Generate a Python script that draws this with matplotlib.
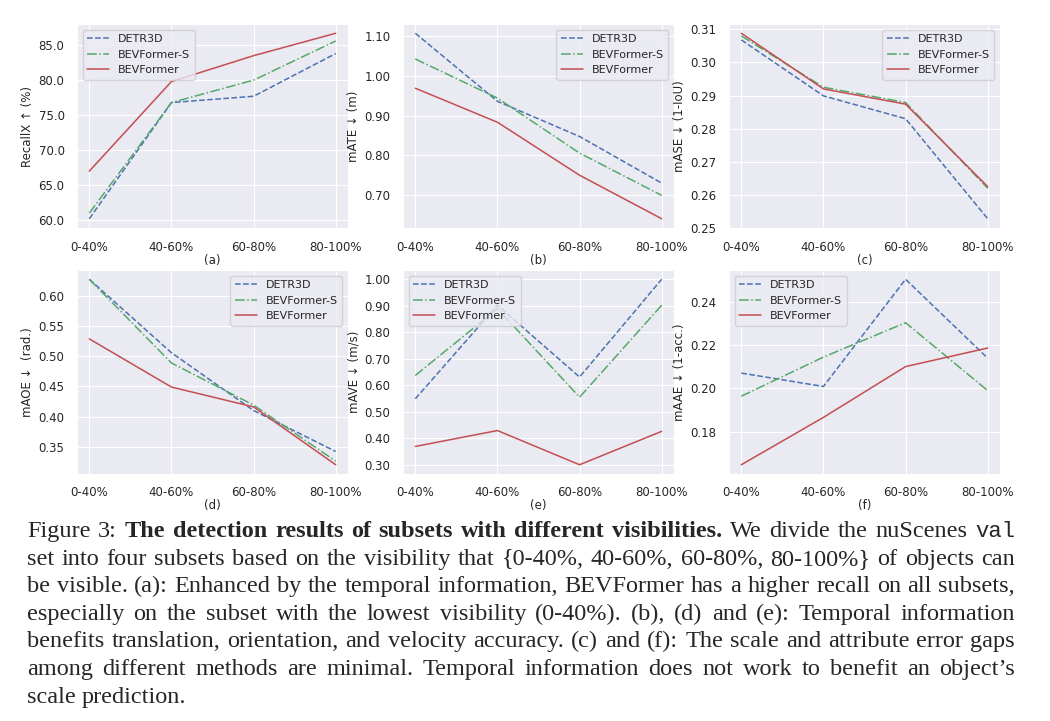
import matplotlib
matplotlib.use("Agg")
import matplotlib.pyplot as plt
import seaborn as sns
from matplotlib.ticker import FormatStrFormatter, MultipleLocator

# ---------------- data
subsets = ["0-40%", "40-60%", "60-80%", "80-100%"]
methods = ["DETR3D", "BEVFormer-S", "BEVFormer"]

# rows: DETR3D, BEVFormer-S, BEVFormer
recall = [[60.2, 76.8, 77.7, 83.8],
          [61.0, 76.8, 80.0, 85.6],
          [67.0, 79.8, 83.5, 86.7]]
mate = [[1.108, 0.936, 0.847, 0.729],
        [1.043, 0.944, 0.805, 0.698],
        [0.969, 0.883, 0.749, 0.639]]
mase = [[0.3068, 0.2899, 0.2830, 0.2528],
        [0.3080, 0.2925, 0.2879, 0.2620],
        [0.3088, 0.2920, 0.2874, 0.2625]]
maoe = [[0.628, 0.506, 0.410, 0.342],
        [0.628, 0.489, 0.419, 0.326],
        [0.529, 0.449, 0.416, 0.320]]
mave = [[0.549, 0.902, 0.631, 1.000],
        [0.637, 0.889, 0.555, 0.902],
        [0.369, 0.429, 0.300, 0.426]]
maae = [[0.2071, 0.2009, 0.2505, 0.2140],
        [0.1964, 0.2145, 0.2304, 0.1990],
        [0.1647, 0.1866, 0.2101, 0.2187]]

ylabels = ["RecallX \u2191 (%)", "mATE \u2193 (m)", "mASE \u2193 (1-IoU)",
           "mAOE \u2193  (rad.)", "mAVE \u2193 (m/s)", "mAAE \u2193 (1-acc.)"]
letters = ["(a)", "(b)", "(c)", "(d)", "(e)", "(f)"]
panels = [recall, mate, mase, maoe, mave, maae]

caption_lines = [
    "Figure 3: *The *detection *results *of *subsets *with *different *visibilities. We divide the nuScenes `val",
    "set into four subsets based on the visibility that {0-40%, 40-60%, 60-80%, 80-100%} of objects can",
    "be visible. (a): Enhanced by the temporal information, BEVFormer has a higher recall on all subsets,",
    "especially on the subset with the lowest visibility (0-40%). (b), (d) and (e): Temporal information",
    "benefits translation, orientation, and velocity accuracy. (c) and (f): The scale and attribute error gaps",
    "among different methods are minimal. Temporal information does not work to benefit an object\u2019s",
    "scale prediction.",
]

# ---------------- style
sns.set_style("darkgrid")
plt.rcParams["font.family"] = ["DejaVu Sans"]
plt.rcParams["xtick.labelsize"] = 8.5
plt.rcParams["ytick.labelsize"] = 8.5
plt.rcParams["axes.labelsize"] = 8.5
plt.rcParams["xtick.major.pad"] = 5.5
plt.rcParams["ytick.major.pad"] = 5.5

colors = ["#4C72B0", "#55A868", "#C44E52"]
styles = ["--", "-.", "-"]
fmts = ["%.1f", "%.2f", "%.2f", "%.2f", "%.2f", "%.2f"]
steps = [5, 0.1, 0.01, 0.05, 0.1, 0.02]
legend_locs = ["upper left", "upper right", "upper right",
               "upper right", "upper left", "upper left"]

W, H = 1050, 721
fig = plt.figure(figsize=(W / 100, H / 100), dpi=100)

lefts = [77, 403, 729]
tops = [24, 270]
aw, ah = 271, 204

for k, vals in enumerate(panels):
    r, c = divmod(k, 3)
    ax = fig.add_axes([lefts[c] / W, 1 - (tops[r] + ah) / H, aw / W, ah / H])
    for m in range(3):
        ax.plot(subsets, vals[m], linestyle=styles[m], color=colors[m],
                lw=1.1, label=methods[m])
    ax.yaxis.set_major_locator(MultipleLocator(steps[k]))
    ax.yaxis.set_major_formatter(FormatStrFormatter(fmts[k]))
    ax.set_ylabel(ylabels[k], labelpad=3)
    ax.set_xlabel(letters[k], labelpad=0)
    ax.legend(loc=legend_locs[k], fontsize=8)

# ---------------- caption, justified line by line
fig.canvas.draw()
rend = fig.canvas.get_renderer()
x0, x1 = 27, 1015
base0, pitch = 537, 27.6
cap_size = 17.5
for i, line in enumerate(caption_lines):
    y = 1 - (base0 + pitch * i) / H
    items = []
    for word in line.split(" "):
        kw = dict(fontsize=cap_size, family="Liberation Serif")
        if word.startswith("*"):
            word = word[1:]
            kw["weight"] = "bold"
        elif word.startswith("`"):
            word = word[1:]
            kw["family"] = "Liberation Mono"
            kw["fontsize"] = cap_size - 1.5
        t = fig.text(0, y, word, va="baseline", ha="left", **kw)
        items.append((t, t.get_window_extent(rend).width))
    total = sum(w for _, w in items)
    space = cap_size * 0.25 * 100 / 72
    if i < len(caption_lines) - 1:
        gap = (x1 - x0 - total) / (len(items) - 1)
    else:
        gap = space
    x = x0
    for t, w in items:
        t.set_x(x / W)
        x += w + gap

fig.savefig("out.png", dpi=100)
